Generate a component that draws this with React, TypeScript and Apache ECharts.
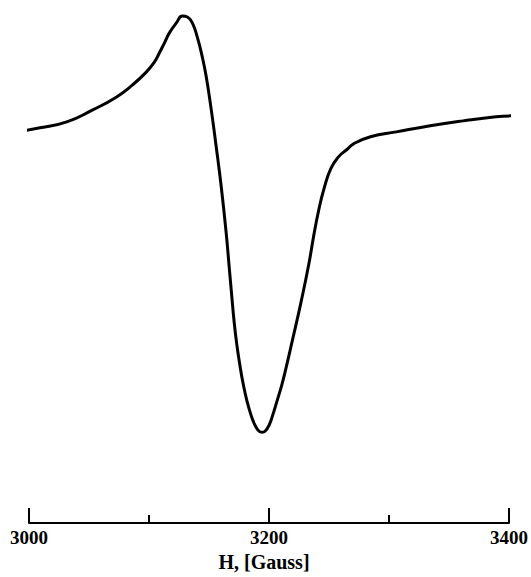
import React, { useEffect, useRef } from "react";
import * as echarts from "echarts";

// Magnetic field H (Gauss)
const fieldH = [
  2997, 3009.1, 3031.5, 3053.1, 3073.0, 3086.3, 3097.9, 3104.6, 3108.7, 3112.9,
  3117.0, 3122.8, 3127.8, 3132.0, 3136.1, 3140.2, 3144.4, 3147.7, 3151.9, 3156.0,
  3160.2, 3164.3, 3166.8, 3168.5, 3171.0, 3173.4, 3175.9, 3178.4, 3181.7, 3185.1,
  3188.4, 3191.7, 3194.2, 3196.7, 3200.0, 3203.3, 3206.6, 3210.8, 3214.9, 3219.1,
  3226.6, 3233.2, 3237.3, 3241.5, 3245.6, 3251.5, 3258.1, 3264.7, 3270.5, 3284.6,
  3306.2, 3334.4, 3361.8, 3389.2, 3403.3,
];

// Derivative EPR signal (arbitrary units)
const signal = [
  0.432, 0.445, 0.474, 0.533, 0.597, 0.656, 0.72, 0.769, 0.814, 0.863,
  0.912, 0.961, 0.995, 0.99, 0.961, 0.892, 0.794, 0.696, 0.533, 0.352,
  0.155, -0.071, -0.238, -0.351, -0.513, -0.631, -0.729, -0.812, -0.901, -0.97,
  -1.019, -1.048, -1.053, -1.048, -1.019, -0.965, -0.901, -0.817, -0.719, -0.611,
  -0.415, -0.225, -0.085, 0.042, 0.14, 0.244, 0.303, 0.337, 0.366, 0.401,
  0.425, 0.455, 0.479, 0.499, 0.504,
];

const tickMin = 3000;
const tickMax = 3400;
const tickStep = 200;
const axisTitle = "H, [Gauss]";

const serif = '"Liberation Serif", "Times New Roman", serif';

export default function App() {
  const ref = useRef<HTMLDivElement>(null);

  useEffect(() => {
    if (!ref.current) return;
    const chart = echarts.init(ref.current, undefined, { renderer: "svg" });
    const data = fieldH.map((h, i) => [h, signal[i]]);
    chart.setOption({
      animation: false,
      backgroundColor: "#ffffff",
      grid: { left: 29, right: 20, top: 15, bottom: 53, containLabel: false },
      xAxis: {
        type: "value",
        min: tickMin,
        max: tickMax,
        interval: tickStep,
        axisLine: { onZero: false, lineStyle: { color: "#000", width: 2 } },
        axisTick: { inside: true, length: 15, lineStyle: { color: "#000", width: 2 } },
        minorTick: { show: true, splitNumber: 2, length: 8, lineStyle: { color: "#000", width: 2 } },
        splitLine: { show: false },
        minorSplitLine: { show: false },
        axisLabel: {
          color: "#000",
          fontFamily: serif,
          fontWeight: "bold",
          fontSize: 19,
          margin: 5,
          formatter: (v: number) => String(v),
        },
        name: axisTitle,
        nameLocation: "middle",
        nameGap: 25,
        nameTextStyle: {
          color: "#000",
          fontFamily: serif,
          fontWeight: "bold",
          fontSize: 20,
          padding: [0, 10, 0, 0],
        },
      },
      yAxis: {
        type: "value",
        min: -1.5,
        max: 1,
        show: false,
      },
      series: [
        {
          type: "line",
          data,
          showSymbol: false,
          smooth: 0.5,
          clip: false,
          lineStyle: { color: "#000", width: 3 },
        },
      ],
    });
    return () => chart.dispose();
  }, []);

  return (
    <div
      ref={ref}
      style={{ position: "fixed", left: 0, top: 0, width: 531, height: 577, background: "#fff" }}
    />
  );
}
